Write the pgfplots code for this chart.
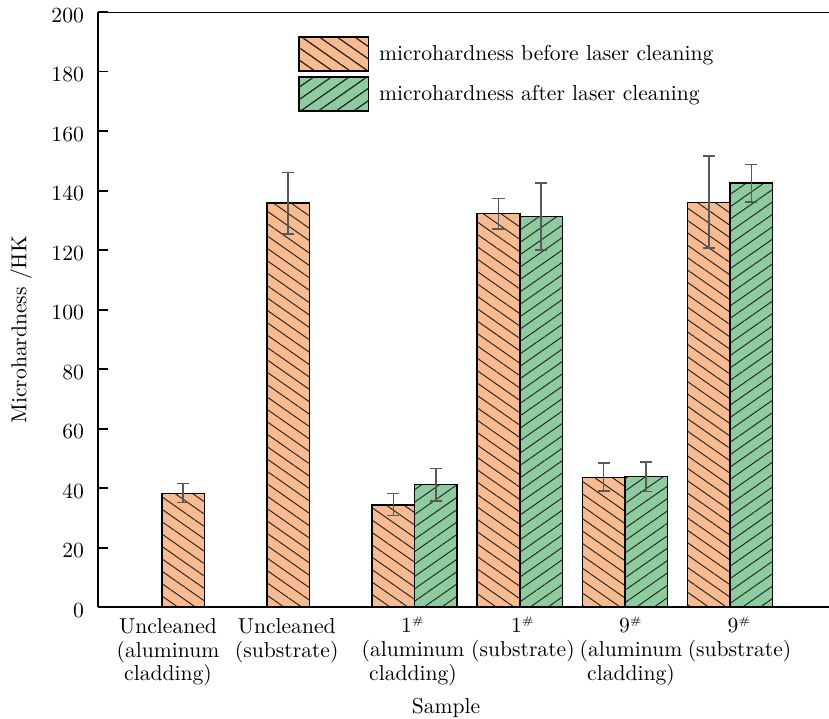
\documentclass[border=0pt]{standalone}
\usepackage{pgfplots}
\pgfplotsset{compat=1.18}
\usetikzlibrary{patterns.meta}
\definecolor{orangeC}{RGB}{247,187,143}
\definecolor{greenC}{RGB}{141,204,158}
\newcommand{\sh}{\smash{\textsuperscript{\tiny\#}}}
\pgfplotstableread{
x y ep em
0 38.2 3.4 3.1
1 135.8 10.3 10.4
2 34.3 3.8 3.6
3 132.2 5.1 5.2
4 43.6 4.8 4.6
5 136.0 15.6 15.4
}\before
\pgfplotstableread{
x y ep em
2 41.2 5.4 5.6
3 131.3 11.2 11.3
4 43.9 4.8 5.0
5 142.5 6.3 6.4
}\after
\begin{document}
\begin{tikzpicture}
\begin{axis}[
  scale only axis,
  width=338.45pt, height=275.5pt,
  xmin=-1.011, xmax=5.941,
  ymin=0, ymax=200,
  ybar=0pt, bar width=19.7pt,
  axis x line*=bottom, axis y line*=left,
  axis line style={-, line width=0.9pt, black},
  tick align=inside,
  major tick length=4.6pt,
  ytick={0,20,...,200},
  y tick style={line width=0.9pt, black},
  x tick style={draw=none},
  xtick={-0.345,0.784,1.985,3.030,4.058,5.090},
  xticklabels={{Uncleaned\\(aluminum\\cladding)},{Uncleaned\\(substrate)},{1\sh\\(aluminum\\cladding)},{1\sh\\(substrate)},{9\sh\\(aluminum\\cladding)},{9\sh\\(substrate)}},
  xticklabel style={align=center, font=\fontsize{10pt}{11pt}\selectfont, yshift=-1.7pt},
  yticklabel style={xshift=-3pt, yshift=-1.5pt},
  xlabel={Sample},
  xlabel style={at={(rel axis cs:0.476,-0.1405)}, anchor=north},
  ylabel={Microhardness /HK},
  ylabel style={at={(rel axis cs:-0.1055,0.466)}, anchor=center},
  legend style={at={(rel axis cs:0.2736,0.960)}, anchor=north west, draw=none, fill=none,
    inner sep=0pt, row sep=1.7pt, font=\fontsize{10pt}{12pt}\selectfont},
  legend cell align=left,
  error bars/error bar style={line width=0.7pt, black!65},
  error bars/error mark options={rotate=90, line width=0.7pt, black!65, mark size=2.8pt},
]
\addplot[fill=orangeC, draw=black, line width=0.7pt,
  postaction={pattern color=black!85, pattern={Lines[angle=-35,distance=4.7pt,line width=0.45pt]}},
  legend image code/.code={\draw[fill=orangeC, draw=black, line width=0.9pt,
    postaction={pattern color=black!85, pattern={Lines[angle=-35,distance=4.7pt,line width=0.45pt]}}]
    (0pt,-7.9pt) rectangle (32pt,7.9pt);},
  error bars/.cd, y dir=both, y explicit]
  table[x=x, y=y, y error plus=ep, y error minus=em]{\before};
\addlegendentry{\hspace{2.5pt}microhardness before laser cleaning}
\addplot[fill=greenC, draw=black, line width=0.7pt,
  postaction={pattern color=black!85, pattern={Lines[angle=35,distance=4.7pt,line width=0.45pt]}},
  legend image code/.code={\draw[fill=greenC, draw=black, line width=0.9pt,
    postaction={pattern color=black!85, pattern={Lines[angle=35,distance=4.7pt,line width=0.45pt]}}]
    (0pt,-7.9pt) rectangle (32pt,7.9pt);},
  error bars/.cd, y dir=both, y explicit]
  table[x=x, y=y, y error plus=ep, y error minus=em]{\after};
\addlegendentry{\hspace{2.5pt}microhardness after laser cleaning}
\draw[line width=0.9pt] (rel axis cs:0,1) -- (rel axis cs:1,1);
\coordinate (O) at (rel axis cs:0,0);
\coordinate (TR) at (rel axis cs:1,1);
\end{axis}
\pgfresetboundingbox
\path ([shift={(-45.37pt,-51.39pt)}]O) rectangle ([shift={(0pt,5.56pt)}]TR);
\end{tikzpicture}
\end{document}
